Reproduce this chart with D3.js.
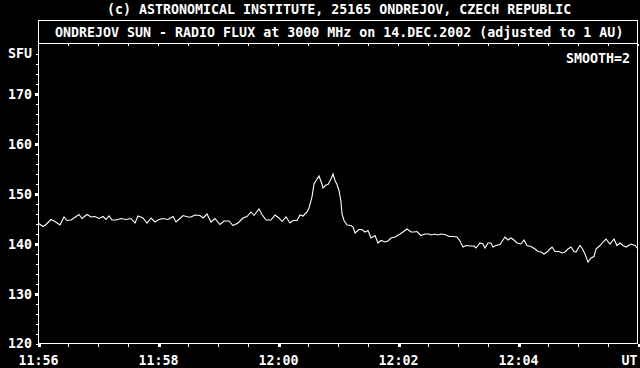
<!DOCTYPE html>
<html><head><meta charset="utf-8">
<script src="https://cdn.jsdelivr.net/npm/d3@7"></script>
<style>
html,body{margin:0;padding:0;background:#000;}
svg{display:block;background:#000;}
text{font-family:"DejaVu Sans Mono","Liberation Mono",monospace;font-weight:bold;font-size:13.3px;fill:#fff;}
</style></head><body>
<svg id="c" width="640" height="368"></svg>
<script>
// ---- text ----
const title1 = "(c) ASTRONOMICAL INSTITUTE, 25165 ONDREJOV, CZECH REPUBLIC";
const title2 = "ONDREJOV SUN - RADIO FLUX at 3000 MHz on 14.DEC.2002 (adjusted to 1 AU)";
const smoothLabel = "SMOOTH=2";
const yUnit = "SFU";
const xUnit = "UT";
// ---- axes ----
const startTime = "2002-12-14T11:56:00Z";
const endTime = "2002-12-14T12:06:00Z";
const yDomain = [120, 180];
const yMajorTicks = [120, 130, 140, 150, 160, 170];
const yUnitTick = 178;
const xMajorTickMinutes = [0, 2, 4, 6, 8, 10];
// ---- data: seconds after 11:56:00 UT, flux in SFU ----
const secs = [0,5,8,13,17,22,26,29,33,36,41,44,49,53,57,61,65,68,71,74,78,83,88,93,97,100,105,109,113,117,120,125,130,135,138,142,145,150,
153,157,162,165,169,173,177,182,186,191,195,200,205,209,213,216,221,224,228,233,237,241,244,248,252,255,259,262,265,269,271,274,276,279,281,284,285,288,290,293,295,297,299,301,303,304,306,309,313,315,317,321,324,327,330,333,337,340,343,347,350,353,357,362,365,369,373,376,379,383,387,391,393,397,400,403,407,411,415,419,422,425,428,433,436,438,442,445,447,450,453,455,458,462,465,467,470,473,476,479,483,486,489,493,497,500,503,506,509,514,517,521,524,527,530,533,536,538,542,544,547,550,553,556,558,562,565,568,572,576,579,582,585,588,593,597,600];
const flux = [144.1,143.4,143.8,144.8,144.4,143.7,145.3,144.6,144.7,145.1,145.8,145.0,145.8,145.3,145.4,145.0,145.4,144.8,145.5,144.7,144.7,145.0,144.8,145.0,144.1,145.5,145.1,144.1,145.1,144.3,144.7,145.0,144.8,145.4,144.3,145.0,145.6,145.3,
145.3,145.7,145.6,145.1,145.9,144.3,145.0,143.8,144.5,144.5,143.6,144.1,145.1,145.4,146.3,145.6,146.9,145.8,144.7,144.7,145.7,145.1,144.4,145.3,144.1,144.6,144.6,145.7,145.5,146.3,147.1,149.3,151.9,152.9,153.5,151.9,151.1,151.7,151.8,152.9,153.9,152.6,151.8,150.6,148.3,145.9,144.6,143.7,143.6,143.3,142.1,142.8,142.8,142.3,142.6,141.1,141.6,140.1,140.6,140.3,140.5,141.1,141.3,141.9,142.3,142.9,142.3,142.3,142.4,141.6,141.9,141.9,141.7,141.9,141.7,141.9,141.8,141.4,141.4,141.3,140.5,139.3,139.6,139.5,139.5,139.1,140.1,139.9,139.1,140.1,140.1,139.3,139.6,139.8,140.7,141.3,140.7,141.1,140.7,140.1,139.9,140.7,139.6,139.4,138.9,138.4,138.3,137.9,138.3,139.3,138.4,138.4,138.1,138.3,138.9,139.3,138.4,138.3,139.6,139.1,137.9,136.3,137.1,137.4,138.9,139.6,140.3,140.9,139.9,140.9,139.6,140.1,139.6,139.3,139.9,139.6,138.9];

const svg = d3.select("#c");
const t0 = new Date(startTime), t1 = new Date(endTime);
const x = d3.scaleUtc().domain([t0, t1]).range([38, 638]);
const y = d3.scaleLinear().domain(yDomain).range([343.5, 43.5]);
const data = secs.map((s, i) => ({t: new Date(t0.getTime() + s * 1000), v: flux[i]}));

const xMajor = xMajorTickMinutes.map(m => new Date(t0.getTime() + m * 60000));
const xMinor = d3.utcSecond.every(30).range(t0, new Date(t1.getTime() + 1));
const yMinor = d3.range(yDomain[0], yDomain[1], 2);

// frame
const fr = svg.append("g").attr("stroke", "#fff").attr("stroke-width", 1).attr("shape-rendering", "crispEdges");
fr.append("line").attr("x1", 38).attr("x2", 638).attr("y1", 20.5).attr("y2", 20.5);
fr.append("line").attr("x1", 38).attr("x2", 638).attr("y1", 43.5).attr("y2", 43.5);
fr.append("line").attr("x1", 38.5).attr("x2", 38.5).attr("y1", 20).attr("y2", 344);
fr.append("line").attr("x1", 637.5).attr("x2", 637.5).attr("y1", 20).attr("y2", 344);
fr.append("line").attr("x1", 38).attr("x2", 638).attr("y1", 343.5).attr("y2", 343.5);

function clean(g) { g.select(".domain").remove(); g.selectAll("line").attr("stroke", "#fff").attr("shape-rendering", "crispEdges"); }

// y axis minor + major
svg.append("g").attr("transform", "translate(38,0)")
  .call(d3.axisLeft(y).tickValues(yMinor).tickSize(2).tickFormat(""))
  .call(clean);
const yAx = svg.append("g").attr("transform", "translate(38,0)")
  .call(d3.axisLeft(y).tickValues(yMajorTicks.filter(v => v > yDomain[0])).tickSize(3).tickPadding(3).tickFormat(d3.format("d")))
  .call(clean);
yAx.selectAll("line").attr("stroke-width", 3);
yAx.selectAll("text").attr("fill", "#fff").attr("dy", "0.36em").style("font-family", null).style("font-size", null);
yAx.attr("font-family", null).attr("font-size", null);
// 120 label at the corner and SFU label
svg.append("text").attr("x", 32).attr("y", y(yDomain[0])).attr("dy", "0.36em").attr("text-anchor", "end").text(yDomain[0]);
svg.append("text").attr("x", 32).attr("y", y(yUnitTick)).attr("dy", "0.36em").attr("text-anchor", "end").text(yUnit);
svg.append("g").attr("transform", "translate(38,0)")
  .call(d3.axisLeft(y).tickValues([yUnitTick]).tickSize(2).tickFormat(""))
  .call(clean);

// x axis bottom
svg.append("g").attr("transform", "translate(0,344)")
  .call(d3.axisBottom(x).tickValues(xMinor).tickSize(3).tickFormat(""))
  .call(clean);
const xAx = svg.append("g").attr("transform", "translate(0,344)")
  .call(d3.axisBottom(x).tickValues(xMajor).tickSize(3).tickPadding(9)
     .tickFormat((d, i) => i === xMajor.length - 1 ? xUnit : d3.utcFormat("%H:%M")(d)))
  .call(clean);
xAx.attr("font-family", null).attr("font-size", null);
xAx.selectAll("line").attr("stroke-width", 3).attr("transform", "translate(0.5,0)");
xAx.selectAll("text").attr("fill", "#fff").attr("dy", "0.71em");
xAx.selectAll(".tick").filter((d, i) => i === xMajor.length - 1).select("text").attr("text-anchor", "end").attr("x", -1);

// top ticks
svg.append("g").attr("transform", "translate(0,44)")
  .call(d3.axisBottom(x).tickValues(xMinor).tickSize(2).tickFormat(""))
  .call(clean);

// titles
svg.append("text").attr("x", 107).attr("y", 13.5).text(title1);
svg.append("text").attr("x", 55).attr("y", 37).text(title2);
svg.append("text").attr("x", 630).attr("y", 63).attr("text-anchor", "end").text(smoothLabel);

// data line
svg.append("path").datum(data)
  .attr("fill", "none").attr("stroke", "#fff").attr("stroke-width", 1.1)
  .attr("d", d3.line().x(d => x(d.t)).y(d => y(d.v)));
</script></body></html>
